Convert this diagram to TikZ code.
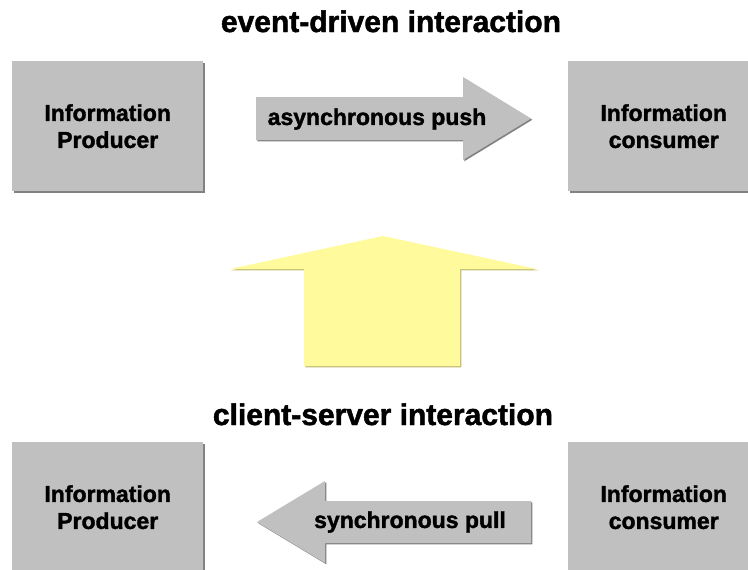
\documentclass[tikz,border=0pt]{standalone}
\usepackage{fontspec}
\setmainfont{Liberation Sans}[BoldFeatures={FakeBold=1.6}]
\usetikzlibrary{shadows}
\definecolor{boxgray}{RGB}{192,192,192}
\definecolor{edgegray}{RGB}{130,130,130}
\definecolor{paleyellow}{RGB}{255,250,156}
\definecolor{edgeyellow}{RGB}{195,188,118}
\begin{document}
\begin{tikzpicture}[x=1pt,y=-1pt,
  panel/.style={fill=boxgray, inner sep=0pt, minimum width=191pt, minimum height=130pt,
    anchor=north west, align=center,
    drop shadow={shadow xshift=1.3pt, shadow yshift=-1.3pt, opacity=1, fill=edgegray},
    font=\fontsize{23}{27}\selectfont\bfseries},
  grayarrow/.style={fill=boxgray,
    drop shadow={shadow xshift=1.3pt, shadow yshift=-1.3pt, opacity=1, fill=edgegray}},
  yellowarrow/.style={fill=paleyellow,
    drop shadow={shadow xshift=1.3pt, shadow yshift=-1.3pt, opacity=1, fill=edgeyellow}},
  arrowtext/.style={font=\fontsize{23}{27}\selectfont\bfseries, inner sep=0pt},
  heading/.style={font=\fontsize{30}{34}\selectfont\bfseries, inner sep=0pt, anchor=base}]
\useasboundingbox (0,0) rectangle (748,570);
\fill[white] (0,0) rectangle (748,570);

% event-driven interaction
\node[heading] (evtitle) at (391,32) {event-driven interaction};
\node[panel] (evprod) at (12,61) {Information\\Producer};
\node[panel] (evcons) at (568,61) {Information\\consumer};
\path[grayarrow] (256,97) -- (463,97) -- (463,77) -- (531,118.5) -- (463,160)
  -- (463,140) -- (256,140) -- cycle;
\node[arrowtext] (push) at (377,119) {asynchronous push};

% transition arrow
\path[yellowarrow] (304,366) -- (304,269) -- (230,269) -- (383,236) -- (537,269)
  -- (460,269) -- (460,366) -- cycle;

% client-server interaction
\node[heading] (cstitle) at (383,425) {client-server interaction};
\node[panel] (csprod) at (12,442) {Information\\Producer};
\node[panel] (cscons) at (568,442) {Information\\consumer};
\path[grayarrow] (531,501) -- (325,501) -- (325,481) -- (257,522) -- (325,563)
  -- (325,543) -- (531,543) -- cycle;
\node[arrowtext] (pull) at (410,522) {synchronous pull};
\end{tikzpicture}
\end{document}
